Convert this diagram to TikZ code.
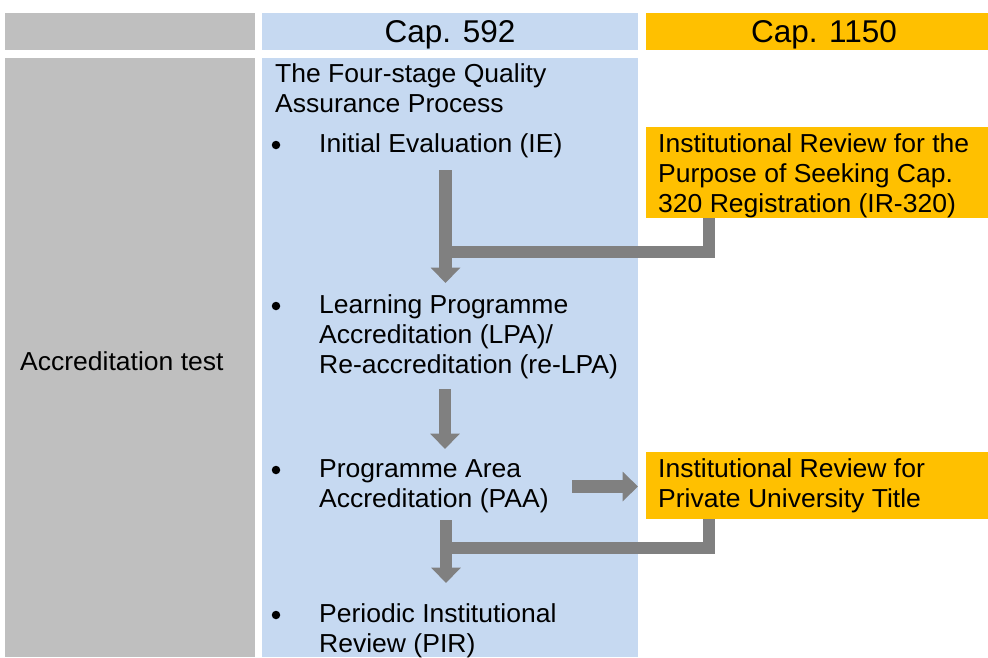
\documentclass[tikz,border=0pt]{standalone}
\usepackage{fontspec}
\setmainfont{Liberation Sans}
\newfontfamily\bodyfont{Liberation Sans}[FakeStretch=1.02]
\usetikzlibrary{arrows.meta}
\definecolor{cgray}{HTML}{BFBFBF}
\definecolor{cblue}{HTML}{C6D9F1}
\definecolor{corange}{HTML}{FFC000}
\definecolor{carrow}{HTML}{808080}
\begin{document}
\begin{tikzpicture}[x=1pt,y=-1pt,
  txt/.style={anchor=base west, inner sep=0pt, align=left, font=\bodyfont\fontsize{26}{30}\selectfont},
  hdr/.style={anchor=base, inner sep=0pt, font=\fontsize{31.5}{36}\selectfont},
  bul/.style={circle, fill=black, inner sep=0pt, minimum size=8.5pt},
  flow/.style={draw=carrow, line width=12.5pt, -{Triangle[length=15.5pt,width=29pt]}},
  elbow/.style={draw=carrow, line width=12pt, line join=miter}]
\useasboundingbox (0,0) rectangle (988,657);
% column backgrounds
\fill[cgray] (5,13) rectangle (255,50);
\fill[cblue] (262,13) rectangle (638,50);
\fill[corange] (646,13) rectangle (988,50);
\fill[cgray] (5,58) rectangle (255,657);
\fill[cblue] (262,58) rectangle (638,657);
\fill[corange] (646,127) rectangle (988,218);
\fill[corange] (646,452) rectangle (988,519);
% headers
\node[hdr] (h592) at (450,42) {Cap. 592};
\node[hdr] (h1150) at (824,42) {Cap. 1150};
% left label
\node[txt] (acc) at (20,370) {Accreditation test};
% middle column (anchor = baseline of last line)
\node[txt] (title) at (275,112) {The Four-stage Quality\\Assurance Process};
\node[bul] (b1) at (276,145) {};
\node[txt] (ie) at (319,152) {Initial Evaluation (IE)};
\node[bul] (b2) at (276,306) {};
\node[txt] (lpa) at (319,373) {Learning Programme\\Accreditation (LPA)/\\Re-accreditation (re-LPA)};
\node[bul] (b3) at (276,470) {};
\node[txt] (paa) at (319,507) {Programme Area\\Accreditation (PAA)};
\node[bul] (b4) at (276,615) {};
\node[txt] (pir) at (319,652) {Periodic Institutional\\Review (PIR)};
% right column
\node[txt] (ir320) at (658,212) {Institutional Review for the\\Purpose of Seeking Cap.\\320 Registration (IR-320)};
\node[txt] (irput) at (658,507) {Institutional Review for\\Private University Title};
% connector points
\coordinate (ieS) at (445.5,170);
\coordinate (lpaN) at (445.5,283);
\coordinate (irA) at (709,218);
\coordinate (irB) at (709,251.5);
\coordinate (j1) at (445.5,251.5);
\coordinate (lpaS) at (445,389);
\coordinate (paaN) at (445,449);
\coordinate (paaE) at (572,486.5);
\coordinate (irputW) at (638,486.5);
\coordinate (paaS) at (446,520);
\coordinate (pirN) at (446,583);
\coordinate (iqA) at (708.5,519);
\coordinate (iqB) at (708.5,547.5);
\coordinate (j2) at (446,547.5);
% connectors
\draw[elbow] (irA) -- (irB) -- (j1);
\draw[flow] (ieS) -- (lpaN);
\draw[flow] (lpaS) -- (paaN);
\draw[flow] (paaE) -- (irputW);
\draw[elbow] (iqA) -- (iqB) -- (j2);
\draw[flow] (paaS) -- (pirN);
\end{tikzpicture}
\end{document}
